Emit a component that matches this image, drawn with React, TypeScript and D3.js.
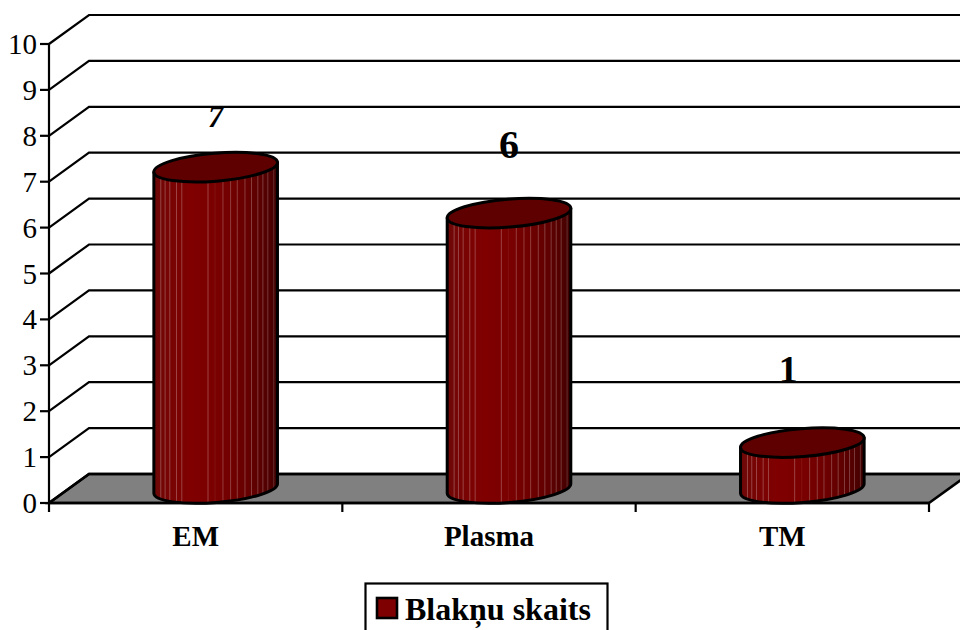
import React from "react";
import * as d3 from "d3";

const categories = ["EM", "Plasma", "TM"];
const counts = [7, 6, 1];
const yTicks = [0, 1, 2, 3, 4, 5, 6, 7, 8, 9, 10];
const seriesName = "Blakņu skaits";

// Shading around a cylinder, lit from the left: [offset, colour]
const shadeStops: [number, string][] = [
  [0, "#6e0808"], [0.12, "#780404"], [0.3, "#800000"], [0.5, "#7a0000"],
  [0.65, "#700000"], [0.8, "#620000"], [0.92, "#520000"], [1, "#3e0000"],
];
// Facet edges as fractions of the cylinder width, with their strength
const facetEdges: [number, number][] = [
  [0.056, 0.26], [0.091, 0.26], [0.129, 0.26], [0.183, 0.26], [0.226, 0.26], [0.438, 0.26],
  [0.495, 0.07], [0.559, 0.24], [0.621, 0.24], [0.675, 0.24], [0.737, 0.24], [0.79, 0.24],
  [0.841, 0.24], [0.882, 0.24], [0.922, 0.22], [0.97, 0.18],
];

// Data labels are set individually: size, slant and nudge from the cylinder top
const labelSizes = [31, 40, 38];
const labelStyles = ["italic", "normal", "normal"];
const labelLift = [40, 55, 60.5];
const labelShift = [0, 0, -14];

const W = 960, H = 630;
const x0 = 49, x1 = 929, yBase = 503, yTop = 44;
const depthX = 40, depthY = 29;

export default function App() {
  const y = d3.scaleLinear().domain([0, 10]).range([yBase, yTop]);
  const x = d3.scaleBand<string>().domain(categories).range([x0, x1]);
  const rx = 62, ry = 14, tilt = -4.6;
  const dx = rx * Math.cos((tilt * Math.PI) / 180);
  const dy = rx * Math.sin((tilt * Math.PI) / 180);
  const serif = "'Liberation Serif', serif";
  return (
    <svg width={W} height={H} style={{ position: "absolute", left: 0, top: 0, background: "#fff" }}>
      <defs>
        <linearGradient id="shade" x1="0" x2="1" y1="0" y2="0">
          {shadeStops.map(([o, c], i) => <stop key={i} offset={o} stopColor={c} />)}
        </linearGradient>
      </defs>
      {/* Floor */}
      <path d={`M${x0},${yBase}L${x0 + depthX},${yBase - depthY}L${x1 + depthX},${yBase - depthY}L${x1},${yBase}Z`} fill="#808080" stroke="#000" strokeWidth={2.6} />
      {/* Wall gridlines */}
      {yTicks.map((t) => (
        <polyline key={t} points={`${x0},${y(t)} ${x0 + depthX},${y(t) - depthY} ${W},${y(t) - depthY}`} fill="none" stroke="#000" strokeWidth={t === 0 ? 2.6 : 2.2} />
      ))}
      {/* Axes */}
      <line x1={x0} x2={x0} y1={yTop} y2={yBase + 9} stroke="#000" strokeWidth={2.2} />
      <line x1={x0} x2={x1} y1={yBase} y2={yBase} stroke="#000" strokeWidth={2.6} />
      {yTicks.map((t) => (
        <g key={t}>
          <line x1={x0 - 9} x2={x0} y1={y(t)} y2={y(t)} stroke="#000" strokeWidth={2.2} />
          <text x={x0 - 12} y={y(t) + 10} textAnchor="end" fontFamily={serif} fontSize={29} fill="#000">{t}</text>
        </g>
      ))}
      {categories.map((c) => {
        const tx = x(c)! + x.bandwidth();
        return <line key={c} x1={tx} x2={tx} y1={yBase} y2={yBase + 9} stroke="#000" strokeWidth={2.2} />;
      })}
      {/* Cylinders */}
      {categories.map((c, i) => {
        const cx = x(c)! + x.bandwidth() / 2 + depthX / 2;
        const top = y(counts[i]) - depthY / 2;
        const bottom = y(0) - depthY / 2;
        const body = `M${cx - dx},${top - dy}L${cx - dx},${bottom - dy}A${rx},${ry} ${tilt} 0 0 ${cx + dx},${bottom + dy}L${cx + dx},${top + dy}Z`;
        return (
          <g key={c}>
            <clipPath id={`body-${i}`}><path d={body} /></clipPath>
            <path d={body} fill="url(#shade)" />
            <g clipPath={`url(#body-${i})`}>
              {facetEdges.map(([f, a], k) => {
                const ex = cx - dx + f * 2 * dx;
                return <line key={k} x1={ex} x2={ex} y1={top - ry - 6} y2={bottom + ry + 6} stroke="#fff" strokeOpacity={a} strokeWidth={1} />;
              })}
            </g>
            <path d={body} fill="none" stroke="#000" strokeWidth={3} strokeLinejoin="round" />
            <ellipse cx={0} cy={0} rx={rx} ry={ry} transform={`translate(${cx},${top}) rotate(${tilt})`} fill="#5e0000" stroke="#000" strokeWidth={3} />
            <text x={cx + labelShift[i]} y={top - labelLift[i]} textAnchor="middle" fontFamily={serif} fontSize={labelSizes[i]} fontStyle={labelStyles[i]} fontWeight="bold" fill="#000">{counts[i]}</text>
            <text x={cx - depthX / 2} y={546} textAnchor="middle" fontFamily={serif} fontSize={29} fontWeight="bold" fill="#000">{c}</text>
          </g>
        );
      })}
      {/* Legend */}
      <rect x={365.5} y={583.5} width={242} height={60} fill="#fff" stroke="#000" strokeWidth={2.2} />
      <rect x={377} y={598} width={20} height={20} fill="#7f0000" stroke="#000" strokeWidth={2.6} />
      <text x={405} y={619.5} fontFamily={serif} fontSize={32} fontWeight="bold" fill="#000">{seriesName}</text>
    </svg>
  );
}
